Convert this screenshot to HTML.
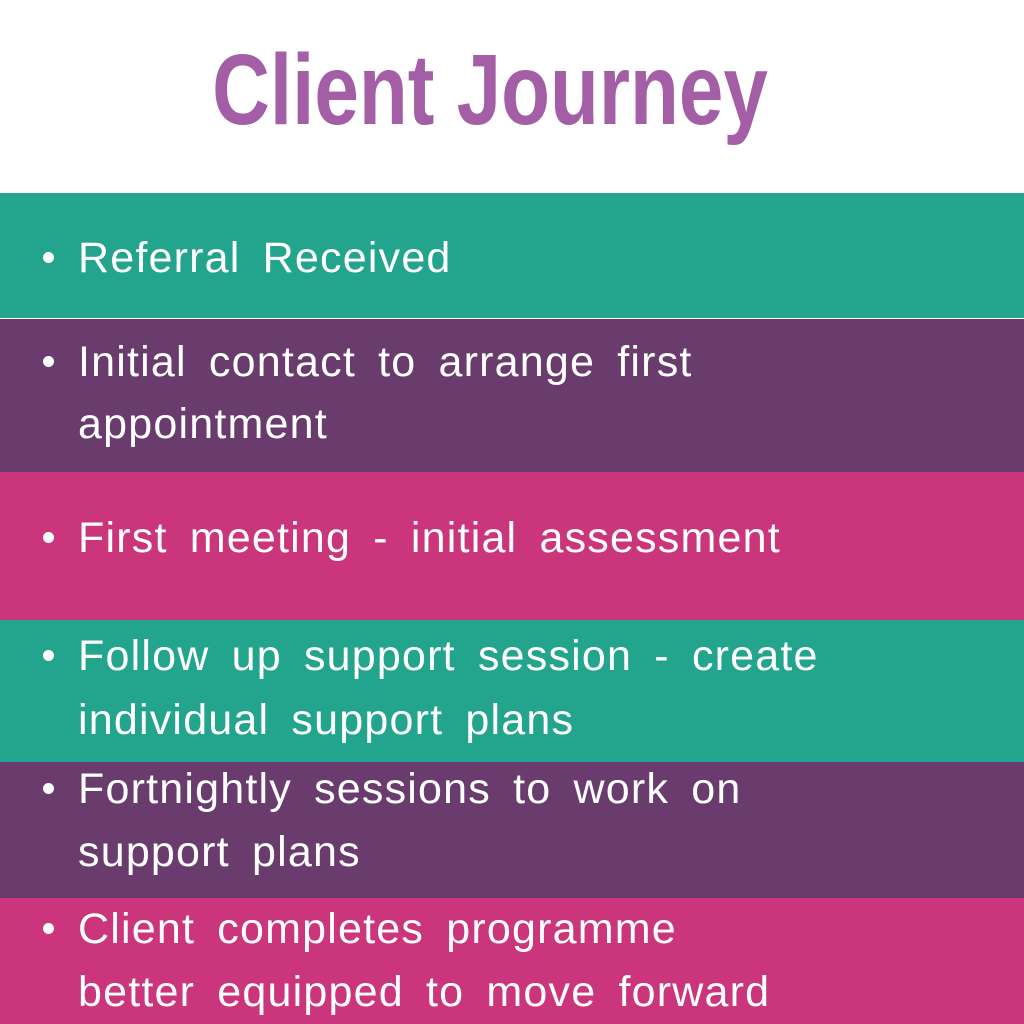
<!DOCTYPE html>
<html><head><meta charset="utf-8"><style>
body{margin:0;width:1024px;height:1024px;position:relative;overflow:hidden;background:#fff;font-family:"Liberation Sans",sans-serif}
.b{position:absolute;left:0;width:1024px}
.t{position:absolute;left:78px;color:#fff;font-size:43px;letter-spacing:1.2px;word-spacing:9px;line-height:64px;white-space:nowrap}
.d{position:absolute;left:43px;width:11px;height:11px;border-radius:50%;background:#fff}
h1{position:absolute;top:30px;left:0;width:980px;text-align:center;margin:0;font-family:"Liberation Sans",sans-serif;font-weight:bold;font-size:100px;line-height:120px;color:#a35ea6;transform:scaleX(0.8);transform-origin:490px 0}
</style></head><body>
<h1>Client Journey</h1>
<div class="b" style="top:193px;height:125px;background:#23a48c"></div>
<div class="b" style="top:319px;height:153px;background:#6a3c6e"></div>
<div class="b" style="top:472px;height:148px;background:#cb357b"></div>
<div class="b" style="top:620px;height:142px;background:#23a48c"></div>
<div class="b" style="top:762px;height:136px;background:#6a3c6e"></div>
<div class="b" style="top:898px;height:126px;background:#cb357b"></div>

<div class="d" style="top:252px"></div><div class="t" style="top:226px">Referral Received</div>
<div class="d" style="top:356px"></div><div class="t" style="top:330px">Initial contact to arrange first</div>
<div class="t" style="top:392px">appointment</div>
<div class="d" style="top:532px"></div><div class="t" style="top:506px">First meeting - initial assessment</div>
<div class="d" style="top:650px"></div><div class="t" style="top:624px">Follow up support session - create</div>
<div class="t" style="top:688px">individual support plans</div>
<div class="d" style="top:783px"></div><div class="t" style="top:757px">Fortnightly sessions to work on</div>
<div class="t" style="top:820px">support plans</div>
<div class="d" style="top:923px"></div><div class="t" style="top:897px">Client completes programme</div>
<div class="t" style="top:960px">better equipped to move forward</div>
</body></html>
